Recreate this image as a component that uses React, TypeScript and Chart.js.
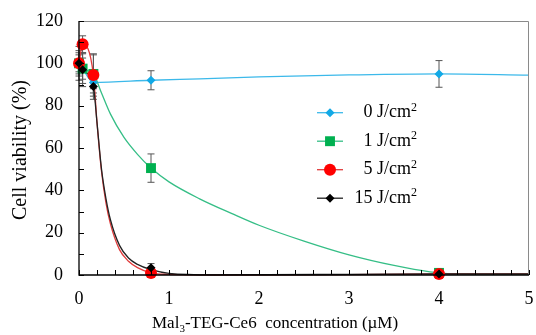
import React, { useEffect, useRef } from 'react';
import { Chart, registerables } from 'chart.js';
Chart.register(...registerables);

// measured data (concentration in µM, viability in %)
const concentrations = [0, 0.04, 0.16, 0.8, 4];
const via0 = [100, 97.5, 91, 92, 95];
const err0 = [6, 5, 3, 4.5, 6.3];
const via1 = [100, 97.5, 95, 50.5, 1];
const err1 = [5, 7, 9, 6.7, 0.5];
const via5 = [100, 109, 94.5, 1, 0.5];
const err5 = [4, 4, 10, 1, 0.5];
const via15 = [100, 97, 89, 3.4, 0.5];
const err15 = [8, 8, 6, 2, 0.5];

// fitted curves
const fit0X = [0, 0.04, 0.16, 0.8, 1.34, 2.0, 3.0, 4, 5];
const fit0Y = [100, 97.5, 91, 92, 92.7, 93.6, 94.5, 95, 94.4];
const fit1X = [0, 0.04, 0.16, 0.25, 0.35, 0.5, 0.65, 0.8, 1.0, 1.34, 1.7, 2.0, 2.5, 3.0, 3.5, 3.9, 4.2, 5];
const fit1Y = [100, 97.5, 95, 86, 76, 65, 57, 50.5, 44, 36, 29, 23.5, 16, 9.5, 4.5, 1.5, 0.5, 0.3];
const fitSX = [0, 0.04, 0.16, 0.2, 0.25, 0.3, 0.35, 0.45, 0.55, 0.65, 0.8, 1.0, 1.5, 3, 4, 5];
const fit5Y = [100, 109, 94.5, 72, 49, 34, 24, 12, 6.5, 3.5, 1, 0.3, 0, 0.2, 0.5, 0.5];
const fit15Y = [100, 97, 89, 72, 50, 36, 26, 14, 8, 5, 2.5, 0.8, 0.1, 0.3, 0.5, 0.5];

const legendLabels = ['0 J/cm', '1 J/cm', '5 J/cm', '15 J/cm'];
const xTickLabels = ['0', '1', '2', '3', '4', '5'];
const yTickLabels = ['0', '20', '40', '60', '80', '100', '120'];

const SERIF = "'Liberation Serif', 'DejaVu Serif', serif";

const series = [
  { via: via0, err: err0, fx: fit0X, fy: fit0Y, color: '#12A9E6', line: '#3CB9EA', style: 'rectRot', r: 4.5 },
  { via: via1, err: err1, fx: fit1X, fy: fit1Y, color: '#00B050', line: '#35BE86', style: 'rect', r: 7 },
  { via: via5, err: err5, fx: fitSX, fy: fit5Y, color: '#FF0000', line: '#E03A3A', style: 'circle', r: 6 },
  { via: via15, err: err15, fx: fitSX, fy: fit15Y, color: '#000000', line: '#222222', style: 'rectRot', r: 4.5 },
];

const drawMarker = (ctx: CanvasRenderingContext2D, style: string, x: number, y: number, r: number, color: string) => {
  ctx.save();
  ctx.fillStyle = color;
  ctx.beginPath();
  if (style === 'circle') {
    ctx.arc(x, y, r, 0, Math.PI * 2);
  } else if (style === 'rect') {
    const s = r * Math.SQRT1_2;
    ctx.rect(x - s, y - s, 2 * s, 2 * s);
  } else {
    ctx.moveTo(x, y - r);
    ctx.lineTo(x + r, y);
    ctx.lineTo(x, y + r);
    ctx.lineTo(x - r, y);
    ctx.closePath();
  }
  ctx.fill();
  ctx.restore();
};

const decorPlugin = {
  id: 'decor',
  beforeDatasetsDraw(chart: any) {
    const ctx = chart.ctx as CanvasRenderingContext2D;
    const xs = chart.scales.x;
    const ys = chart.scales.y;
    ctx.save();
    ctx.strokeStyle = '#555555';
    ctx.lineWidth = 1;
    series.forEach((s) => {
      concentrations.forEach((c, i) => {
        const px = xs.getPixelForValue(c);
        const top = ys.getPixelForValue(s.via[i] + s.err[i]);
        const bot = ys.getPixelForValue(Math.max(0, s.via[i] - s.err[i]));
        ctx.beginPath();
        ctx.moveTo(px, top);
        ctx.lineTo(px, bot);
        ctx.moveTo(px - 3.5, top);
        ctx.lineTo(px + 3.5, top);
        ctx.moveTo(px - 3.5, bot);
        ctx.lineTo(px + 3.5, bot);
        ctx.stroke();
      });
    });
    ctx.restore();
  },
  afterDraw(chart: any) {
    const ctx = chart.ctx as CanvasRenderingContext2D;
    const a = chart.chartArea;
    const xs = chart.scales.x;
    const ys = chart.scales.y;
    ctx.save();
    // frame
    ctx.strokeStyle = '#8a8a8a';
    ctx.lineWidth = 1;
    ctx.beginPath();
    ctx.moveTo(a.left, a.top + 0.5);
    ctx.lineTo(a.right - 0.5, a.top + 0.5);
    ctx.lineTo(a.right - 0.5, a.bottom);
    ctx.stroke();
    ctx.strokeStyle = '#000';
    ctx.lineWidth = 1.3;
    ctx.beginPath();
    ctx.moveTo(a.left, a.top);
    ctx.lineTo(a.left, a.bottom);
    ctx.lineTo(a.right, a.bottom);
    ctx.stroke();
    // ticks inside
    ctx.lineWidth = 1;
    ctx.beginPath();
    for (let v = 0; v <= 120; v += 10) {
      const py = Math.round(ys.getPixelForValue(v)) + 0.5;
      ctx.moveTo(a.left, py);
      ctx.lineTo(a.left + 5, py);
    }
    for (let k = 0; k <= 25; k++) {
      const px = Math.round(xs.getPixelForValue(k * 0.2)) + 0.5;
      ctx.moveTo(px, a.bottom);
      ctx.lineTo(px, a.bottom - 5);
    }
    ctx.stroke();

    // x title with subscript
    ctx.fillStyle = '#000';
    ctx.textBaseline = 'alphabetic';
    ctx.textAlign = 'left';
    const fMain = `17px ${SERIF}`;
    const fSmall = `11px ${SERIF}`;
    let x = 152;
    const by = 328;
    ctx.font = fMain;
    ctx.fillText('Mal', x, by);
    x += ctx.measureText('Mal').width;
    ctx.font = fSmall;
    ctx.fillText('3', x, by + 4);
    x += ctx.measureText('3').width;
    ctx.font = fMain;
    ctx.fillText('-TEG-Ce6  concentration (\u00B5M)', x, by);

    // y title
    ctx.save();
    ctx.translate(21, 150);
    ctx.rotate(-Math.PI / 2);
    ctx.textAlign = 'center';
    ctx.textBaseline = 'middle';
    ctx.font = `20px ${SERIF}`;
    ctx.fillText('Cell viability (%)', 0, 0);
    ctx.restore();

    // legend
    const rows = [112.7, 141.2, 169.7, 198.2];
    series.forEach((s, i) => {
      const cy = rows[i];
      ctx.strokeStyle = s.line;
      ctx.lineWidth = 1.3;
      ctx.beginPath();
      ctx.moveTo(317, cy);
      ctx.lineTo(343, cy);
      ctx.stroke();
      drawMarker(ctx, s.style, 330, cy, s.r, s.color);
      ctx.fillStyle = '#000';
      ctx.font = `12px ${SERIF}`;
      const supW = ctx.measureText('2').width;
      ctx.textAlign = 'left';
      ctx.textBaseline = 'middle';
      ctx.fillText('2', 417 - supW, cy - 5);
      ctx.font = `18px ${SERIF}`;
      ctx.textAlign = 'right';
      ctx.fillText(legendLabels[i], 417 - supW, cy);
    });
    ctx.restore();
  },
};

export default function App() {
  const ref = useRef<HTMLCanvasElement>(null);
  useEffect(() => {
    document.body.style.margin = '0';
    const datasets: any[] = [];
    series.forEach((s, i) => {
      datasets.push({
        type: 'scatter',
        data: concentrations.map((c, j) => ({ x: c, y: s.via[j] })),
        pointStyle: s.style,
        pointRadius: s.r,
        pointBackgroundColor: s.color,
        pointBorderWidth: 0,
        borderColor: s.color,
        showLine: false,
        clip: false,
        order: 3 - i,
      });
    });
    series.forEach((s, i) => {
      datasets.push({
        type: 'line',
        data: s.fx.map((fx, j) => ({ x: fx, y: s.fy[j] })),
        borderColor: s.line,
        borderWidth: 1.3,
        pointRadius: 0,
        fill: false,
        cubicInterpolationMode: 'monotone',
        clip: false,
        order: 10 + (3 - i),
      });
    });
    const chart = new Chart(ref.current!, {
      type: 'scatter',
      data: { datasets },
      options: {
        animation: false,
        responsive: false,
        events: [],
        layout: { padding: { left: 0, right: 4, top: 21, bottom: 0 } },
        plugins: { legend: { display: false }, tooltip: { enabled: false } },
        scales: {
          x: {
            type: 'linear',
            min: 0,
            max: 5,
            grid: { display: false, drawTicks: false },
            border: { display: false },
            ticks: {
              stepSize: 1,
              padding: 13,
              color: '#000',
              font: { family: SERIF, size: 18 },
              callback: (v: any) => xTickLabels[Math.round(v)] ?? '',
            },
            afterFit: (sc: any) => { sc.height = 60; sc.paddingLeft = 0; sc.paddingRight = 0; },
          },
          y: {
            min: 0,
            max: 120,
            grid: { display: false, drawTicks: false },
            border: { display: false },
            ticks: {
              stepSize: 20,
              padding: 16,
              color: '#000',
              font: { family: SERIF, size: 18 },
              callback: (v: any) => yTickLabels[Math.round(v / 20)] ?? '',
            },
            afterFit: (sc: any) => { sc.width = 79; sc.paddingTop = 0; sc.paddingBottom = 0; },
          },
        },
      },
      plugins: [decorPlugin],
    });
    return () => chart.destroy();
  }, []);
  return (
    <div style={{ width: 536, height: 335 }}>
      <canvas ref={ref} width={536} height={335} style={{ display: 'block' }} />
    </div>
  );
}
